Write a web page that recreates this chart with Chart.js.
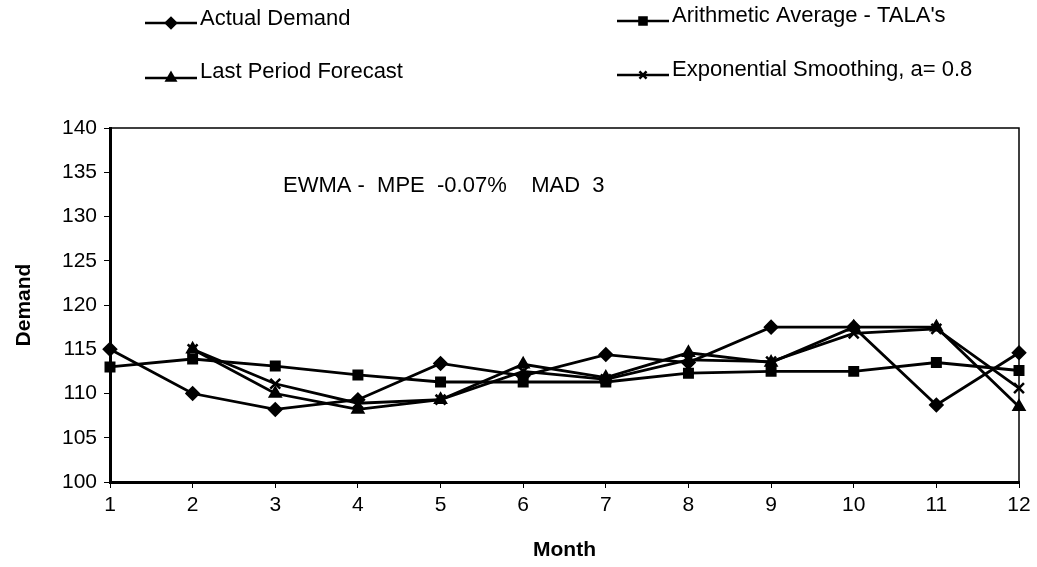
<!DOCTYPE html>
<html>
<head>
<meta charset="utf-8">
<script src="https://cdn.jsdelivr.net/npm/chart.js@4.4.1/dist/chart.umd.min.js"></script>
<style>
  html, body { margin: 0; padding: 0; background: #fff; }
  #demand_chart { display: block; }
</style>
</head>
<body>
<canvas id="demand_chart" width="1037" height="567"></canvas>
<script>
const months = ['1', '2', '3', '4', '5', '6', '7', '8', '9', '10', '11', '12'];

const actual_demand = [115, 110, 108.2, 109.3, 113.4, 112, 114.4, 113.5, 117.5, 117.5, 108.7, 114.6];
const arithmetic_average = [113, 113.9, 113.1, 112.1, 111.3, 111.3, 111.3, 112.3, 112.5, 112.5, 113.5, 112.6];
const last_period = [null, 115, 110, 108.2, 109.3, 113.3, 111.8, 114.6, 113.5, 117.5, 117.5, 108.5];
const exp_smoothing = [null, 115, 111.1, 108.9, 109.3, 112.5, 111.6, 113.8, 113.6, 116.8, 117.3, 110.6];

const y_min = 100;
const y_max = 140;
const y_step = 5;

const note_text = 'EWMA -  MPE  -0.07%    MAD  3';

const FONT = '"Liberation Sans", Arial, sans-serif';

// legend drawn by hand: two columns, line segment with the marker in the middle
const legendPlugin = {
    id: 'cornerLegend',
    afterDraw(chart) {
        const ctx = chart.ctx;
        const slots = [
            {x: 145, y: 23, ty: 19},
            {x: 617, y: 21, ty: 16},
            {x: 145, y: 78, ty: 72},
            {x: 617, y: 75, ty: 70}
        ];
        ctx.save();
        chart.data.datasets.forEach((ds, i) => {
            const s = slots[i];
            ctx.strokeStyle = '#000';
            ctx.lineWidth = 2.5;
            ctx.beginPath();
            ctx.moveTo(s.x, s.y);
            ctx.lineTo(s.x + 52, s.y);
            ctx.stroke();
            ctx.fillStyle = '#000';
            Chart.helpers.drawPoint(ctx, {
                pointStyle: ds.pointStyle,
                radius: 5,
                borderWidth: 2
            }, s.x + 26, s.y);
            ctx.font = '22px ' + FONT;
            ctx.textAlign = 'left';
            ctx.textBaseline = 'middle';
            ctx.fillText(ds.label, s.x + 55, s.ty);
        });
        ctx.restore();
    }
};

// box around the plot area and the error note inside it
const frameNotePlugin = {
    id: 'frameNote',
    afterDatasetsDraw(chart) {
        const ctx = chart.ctx;
        const a = chart.chartArea;
        ctx.save();
        ctx.strokeStyle = '#000';
        ctx.lineWidth = 1.5;
        ctx.beginPath();
        ctx.moveTo(a.left, a.top);
        ctx.lineTo(a.right, a.top);
        ctx.lineTo(a.right, a.bottom);
        ctx.stroke();
        ctx.fillStyle = '#000';
        ctx.font = '22px ' + FONT;
        ctx.textAlign = 'left';
        ctx.textBaseline = 'middle';
        ctx.fillText(note_text, 283, chart.scales.y.getPixelForValue(133.5));
        ctx.restore();
    }
};

function plot_forecast_chart(chart_id){
    const ctx = document.getElementById(chart_id).getContext('2d');
    const series = [
        {label: 'Actual Demand', data: actual_demand, pointStyle: 'rectRot', pointRadius: 6},
        {label: "Arithmetic Average - TALA's", data: arithmetic_average, pointStyle: 'rect', pointRadius: 6},
        {label: 'Last Period Forecast', data: last_period, pointStyle: 'triangle', pointRadius: 6},
        {label: 'Exponential Smoothing, a= 0.8', data: exp_smoothing, pointStyle: 'crossRot', pointRadius: 7}
    ];
    const chart = new Chart(ctx, {
        type: 'line',
        data: {
            labels: months,
            datasets: series.map(s => ({
                label: s.label,
                data: s.data,
                pointStyle: s.pointStyle,
                pointRadius: s.pointRadius,
                borderColor: '#000',
                backgroundColor: '#000',
                pointBorderColor: '#000',
                pointBackgroundColor: '#000',
                pointBorderWidth: 2.5,
                borderWidth: 2.8,
                tension: 0,
                fill: false,
                spanGaps: false
            }))
        },
        options: {
            responsive: false,
            animation: false,
            layout: {
                padding: {top: 128, right: 18, left: 8, bottom: 0}
            },
            plugins: {
                legend: {display: false},
                tooltip: {enabled: false}
            },
            scales: {
                x: {
                    offset: false,
                    afterFit: s => { s.height = 85; },
                    grid: {drawOnChartArea: false, tickLength: 6, color: '#000', lineWidth: 1},
                    border: {color: '#000', width: 3},
                    ticks: {color: '#000', font: {family: FONT, size: 21}, padding: 5, maxRotation: 0},
                    title: {
                        display: true,
                        text: 'Month',
                        color: '#000',
                        font: {family: FONT, size: 21, weight: 'bold'},
                        padding: {top: 10}
                    }
                },
                y: {
                    min: y_min,
                    max: y_max,
                    afterFit: s => { s.width = 102; },
                    grid: {drawOnChartArea: false, tickLength: 6, color: '#000', lineWidth: 1},
                    border: {color: '#000', width: 3},
                    ticks: {stepSize: y_step, color: '#000', font: {family: FONT, size: 21}, padding: 7},
                    title: {
                        display: true,
                        text: 'Demand',
                        color: '#000',
                        font: {family: FONT, size: 21, weight: 'bold'},
                        padding: {bottom: 6}
                    }
                }
            }
        },
        plugins: [frameNotePlugin, legendPlugin]
    });
    return chart;
}

plot_forecast_chart('demand_chart');
</script>
</body>
</html>
